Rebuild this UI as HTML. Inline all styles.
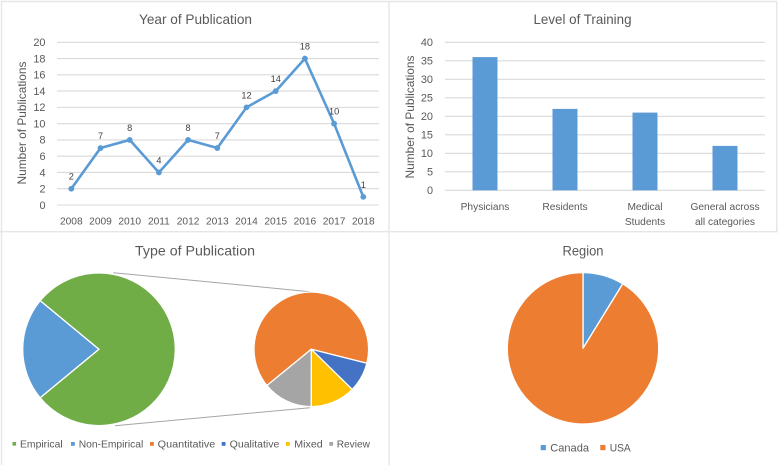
<!DOCTYPE html>
<html>
<head>
<meta charset="utf-8">
<title>Publication charts</title>
<style>
html,body{margin:0;padding:0;background:#fff;width:778px;height:465px;overflow:hidden}
svg{display:block;filter:blur(0.35px)}
text{font-family:"Liberation Sans",sans-serif;fill:#595959}
.title{font-size:13.6px;text-anchor:middle}
.tick{font-size:10.2px}
.axis{font-size:11.8px;text-anchor:middle}
.leg{font-size:10.3px}
</style>
</head>
<body>
<svg id="root" width="778" height="465" viewBox="0 0 778 465" xmlns="http://www.w3.org/2000/svg">
  <rect width="778" height="465" fill="#fff"/>
  <g stroke="#e6e6e6" stroke-width="1.4" fill="none">
    <path d="M1.5 465V1.5H777"/>
    <path d="M389 1V465"/>
    <path d="M776.7 1V232"/>
    <path d="M0 231.7H778"/>
  </g>
  <text class="title" x="195.5" y="24" textLength="113" lengthAdjust="spacingAndGlyphs">Year of Publication</text>
  <text class="title" x="582.5" y="24" textLength="98" lengthAdjust="spacingAndGlyphs">Level of Training</text>
  <text class="title" x="195" y="255.5" textLength="120" lengthAdjust="spacingAndGlyphs">Type of Publication</text>
  <text class="title" x="583" y="255.5" textLength="41" lengthAdjust="spacingAndGlyphs">Region</text>
  <text class="axis" transform="translate(26,123) rotate(-90)" textLength="123" lengthAdjust="spacingAndGlyphs">Number of Publications</text>
  <text class="axis" transform="translate(414,117) rotate(-90)" textLength="123" lengthAdjust="spacingAndGlyphs">Number of Publications</text>

  <g id="year-chart"></g>
  <g id="training-chart"></g>

  <line x1="113.3" y1="272.7" x2="310" y2="291.7" stroke="#a5a5a5" stroke-width="1"/>
  <line x1="115" y1="425.7" x2="310" y2="407.7" stroke="#a5a5a5" stroke-width="1"/>
  <g id="type-main-pie"></g>
  <g id="type-detail-pie"></g>
  <g id="region-pie"></g>

  <g>
    <g><rect x="12.5" y="442" width="3.6" height="3.6" fill="#70AD47"/><text class="leg" x="20" y="447.6" textLength="42.7" lengthAdjust="spacingAndGlyphs">Empirical</text></g>
    <g><rect x="71" y="442" width="3.8" height="3.8" fill="#5B9BD5"/><text class="leg" x="78.7" y="447.6" textLength="64.6" lengthAdjust="spacingAndGlyphs">Non-Empirical</text></g>
    <g><rect x="150" y="442" width="3.8" height="3.8" fill="#ED7D31"/><text class="leg" x="157.7" y="447.6" textLength="57.6" lengthAdjust="spacingAndGlyphs">Quantitative</text></g>
    <g><rect x="221.7" y="442" width="3.8" height="3.8" fill="#4472C4"/><text class="leg" x="229.7" y="447.6" textLength="49.6" lengthAdjust="spacingAndGlyphs">Qualitative</text></g>
    <g><rect x="286" y="442" width="3.8" height="3.8" fill="#FFC000"/><text class="leg" x="294.3" y="447.6" textLength="28.4" lengthAdjust="spacingAndGlyphs">Mixed</text></g>
    <g><rect x="329.3" y="442" width="3.8" height="3.8" fill="#A5A5A5"/><text class="leg" x="336.7" y="447.6" textLength="33.3" lengthAdjust="spacingAndGlyphs">Review</text></g>
  </g>
  <g>
    <g><rect x="540.7" y="445" width="5.2" height="5.2" fill="#5B9BD5"/><text class="leg" x="550.3" y="451.4" textLength="38.7" lengthAdjust="spacingAndGlyphs" style="font-size:10.8px">Canada</text></g>
    <g><rect x="600.3" y="445" width="5.2" height="5.2" fill="#ED7D31"/><text class="leg" x="609.7" y="451.4" textLength="21" lengthAdjust="spacingAndGlyphs" style="font-size:10.8px">USA</text></g>
  </g>
</svg>
<script>
const yearCategories = ['2008','2009','2010','2011','2012','2013','2014','2015','2016','2017','2018'];
const yearValues = [2,7,8,4,8,7,12,14,18,10,1];
const yearTicks = [0,2,4,6,8,10,12,14,16,18,20];
const trainingCategories = [['Physicians'],['Residents'],['Medical','Students'],['General across','all categories']];
const trainingValues = [36,22,21,12];
const trainingTicks = [0,5,10,15,20,25,30,35,40];
const typeMainLabels = ['Non-Empirical','Empirical'];
const typeMainValues = [20,71];
const typeDetailLabels = ['Quantitative','Qualitative','Mixed','Review'];
const typeDetailValues = [46,6,9,10];
const regionLabels = ['Canada','USA'];
const regionValues = [8,83];

const NS = 'http://www.w3.org/2000/svg';
function make(parent, tag, attrs, txt) {
  const el = document.createElementNS(NS, tag);
  for (const k in attrs) el.setAttribute(k, attrs[k]);
  if (txt !== undefined) el.textContent = txt;
  parent.appendChild(el);
  return el;
}
function slug(s) { return String(s).toLowerCase().replace(/[^a-z0-9]+/g, '-'); }

/* Year line chart */
(function () {
  const g = document.getElementById('year-chart');
  const yS = v => 205 - (v / 20) * (205 - 42.3);
  const xS = i => 71.3 + i * (363.3 - 71.3) / (yearCategories.length - 1);
  yearTicks.forEach(t => {
    const line = make(g, 'line', {x1: 57, x2: 379, y1: yS(t), y2: yS(t), stroke: '#dadada', 'stroke-width': 1.1});
    
    
    const lab = make(g, 'text', {class: 'tick', x: 45.5, y: yS(t) + 3.8, 'text-anchor': 'end', style: 'font-size:10.9px'}, t);
    
    
  });
  yearCategories.forEach((c, i) => {
    const lab = make(g, 'text', {class: 'tick', x: xS(i), y: 224.3, 'text-anchor': 'middle'}, c);
    
    
  });
  const line = make(g, 'polyline', {
    points: yearValues.map((v, i) => xS(i) + ',' + yS(v)).join(' '),
    fill: 'none', stroke: '#5B9BD5', 'stroke-width': 2.6, 'stroke-linejoin': 'round'
  });
  
  
  yearValues.forEach((v, i) => {
    const pt = make(g, 'circle', {cx: xS(i), cy: yS(v), r: 2.9, fill: '#5B9BD5'});
    
    
    const lab = make(g, 'text', {x: xS(i), y: yS(v) - 9, 'text-anchor': 'middle', style: 'font-size:9.2px;fill:#404040'}, v);
    
    
  });
})();

/* Training bar chart */
(function () {
  const g = document.getElementById('training-chart');
  const yS = v => 190.3 - (v / 40) * (190.3 - 42.3);
  const band = (765 - 445) / trainingCategories.length;
  const xS = i => 445 + band * (i + 0.5);
  trainingTicks.forEach(t => {
    const line = make(g, 'line', {x1: 445, x2: 765, y1: yS(t), y2: yS(t), stroke: '#dadada', 'stroke-width': 1.1});
    
    
    const lab = make(g, 'text', {class: 'tick', x: 433, y: yS(t) + 3.8, 'text-anchor': 'end', style: 'font-size:10.9px'}, t);
    
    
  });
  trainingValues.forEach((v, i) => {
    const bar = make(g, 'rect', {x: xS(i) - 12.5, y: yS(v), width: 25, height: yS(0) - yS(v), fill: '#5B9BD5'});
    
    
  });
  trainingCategories.forEach((lines, i) => {
    lines.forEach((s, j) => {
      const lab = make(g, 'text', {class: 'tick', x: xS(i), y: 210 + j * 14.8, 'text-anchor': 'middle', style: 'font-size:10.2px'}, s);
      
      
    });
  });
})();

/* Pies */
function drawPie(g, cx, cy, r, startDeg, values, labels, colors) {
  const total = values.reduce((a, b) => a + b, 0);
  let ang = startDeg;
  values.forEach((v, i) => {
    const sweep = v / total * 360;
    const a0 = (ang - 90) * Math.PI / 180;
    const a1 = (ang + sweep - 90) * Math.PI / 180;
    const d = 'M' + cx + ' ' + cy +
      'L' + (cx + r * Math.cos(a0)) + ' ' + (cy + r * Math.sin(a0)) +
      'A' + r + ' ' + r + ' 0 ' + (sweep > 180 ? 1 : 0) + ' 1 ' +
      (cx + r * Math.cos(a1)) + ' ' + (cy + r * Math.sin(a1)) + 'Z';
    const slice = make(g, 'path', {d: d, fill: colors[i], stroke: '#fff', 'stroke-width': 1.3, 'stroke-linejoin': 'round'});
    
    
    ang += sweep;
  });
}
drawPie(document.getElementById('type-main-pie'), 99, 349.3, 76.3, 230.5, typeMainValues, typeMainLabels, ['#5B9BD5', '#70AD47']);
drawPie(document.getElementById('type-detail-pie'), 311.3, 349.3, 57.3, 230.8, typeDetailValues, typeDetailLabels, ['#ED7D31', '#4472C4', '#FFC000', '#A5A5A5']);
drawPie(document.getElementById('region-pie'), 583, 348.3, 75.7, 0, regionValues, regionLabels, ['#5B9BD5', '#ED7D31']);
</script>
</body>
</html>
